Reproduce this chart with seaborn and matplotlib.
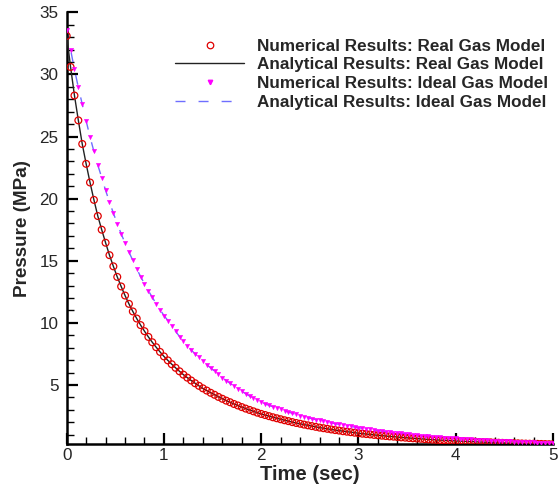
import matplotlib

matplotlib.use("Agg")
import matplotlib.pyplot as plt
import seaborn as sns
from matplotlib.lines import Line2D
from matplotlib.ticker import MultipleLocator

# Sample times (sec), one marker every 0.04 s
time_sec = [round(0.04 * k, 2) for k in range(126)]

# Pressure (MPa), real gas model
p_real = [
    33.1, 30.6, 28.3, 26.3, 24.4, 22.8, 21.3, 19.9, 18.6, 17.5,
    16.45, 15.45, 14.55, 13.7, 12.93, 12.2, 11.53, 10.92, 10.35, 9.82,
    9.33, 8.87, 8.44, 8.04, 7.66, 7.3, 6.98, 6.67, 6.38, 6.10,
    5.83, 5.59, 5.36, 5.14, 4.93, 4.73, 4.55, 4.37, 4.21, 4.04,
    3.89, 3.74, 3.61, 3.47, 3.35, 3.22, 3.10, 2.99, 2.88, 2.77,
    2.67, 2.58, 2.49, 2.40, 2.32, 2.24, 2.16, 2.09, 2.01, 1.94,
    1.88, 1.81, 1.75, 1.69, 1.63, 1.57, 1.52, 1.47, 1.42, 1.37,
    1.33, 1.28, 1.24, 1.20, 1.16, 1.12, 1.08, 1.05, 1.02, 0.98,
    0.95, 0.92, 0.89, 0.86, 0.84, 0.81, 0.78, 0.76, 0.73, 0.71,
    0.69, 0.67, 0.64, 0.62, 0.60, 0.58, 0.56, 0.55, 0.53, 0.51,
    0.50, 0.48, 0.47, 0.45, 0.44, 0.43, 0.41, 0.40, 0.39, 0.38,
    0.36, 0.35, 0.34, 0.33, 0.32, 0.31, 0.30, 0.29, 0.28, 0.27,
    0.27, 0.26, 0.25, 0.24, 0.23, 0.23,
]

# Pressure (MPa), ideal gas model
p_ideal = [
    33.6, 32.0, 30.4, 28.95, 27.6, 26.26, 24.97, 23.8, 22.7, 21.7,
    20.67, 19.73, 18.84, 17.98, 17.18, 16.42, 15.7, 15.03, 14.35, 13.73,
    13.15, 12.58, 12.07, 11.53, 11.07, 10.59, 10.19, 9.73, 9.32, 8.9,
    8.52, 8.17, 7.82, 7.5, 7.23, 6.9, 6.64, 6.37, 6.11, 5.85,
    5.60, 5.36, 5.13, 4.91, 4.70, 4.49, 4.30, 4.11, 3.94, 3.77,
    3.61, 3.48, 3.36, 3.25, 3.13, 3.03, 2.92, 2.82, 2.72, 2.63,
    2.54, 2.45, 2.37, 2.29, 2.22, 2.15, 2.08, 2.02, 1.95, 1.89,
    1.83, 1.77, 1.72, 1.66, 1.61, 1.56, 1.51, 1.46, 1.42, 1.37,
    1.33, 1.29, 1.25, 1.21, 1.17, 1.13, 1.10, 1.06, 1.03, 1.00,
    0.96, 0.93, 0.90, 0.88, 0.85, 0.82, 0.80, 0.77, 0.75, 0.72,
    0.70, 0.68, 0.66, 0.64, 0.62, 0.60, 0.58, 0.56, 0.54, 0.53,
    0.51, 0.49, 0.48, 0.46, 0.45, 0.43, 0.42, 0.41, 0.39, 0.38,
    0.37, 0.36, 0.35, 0.33, 0.32, 0.31,
]

legend_labels = [
    "Numerical Results: Real Gas Model",
    "Analytical Results: Real Gas Model",
    "Numerical Results: Ideal Gas Model",
    "Analytical Results: Ideal Gas Model",
]

sns.set_style("ticks")
plt.rcParams["font.family"] = ["Liberation Sans", "DejaVu Sans"]

fig = plt.figure(figsize=(5.58, 4.92), dpi=100)
ax = fig.add_axes([0.1195, 0.0976, 0.8715, 0.8774])

dash_blue = "#6e6eff"
dash_pattern = [7.2, 9.4]

# Analytical curves
sns.lineplot(x=time_sec, y=p_ideal, ax=ax, color=dash_blue, linewidth=1.0,
             zorder=2)
ax.lines[-1].set_dashes(dash_pattern)
sns.lineplot(x=time_sec, y=p_real, ax=ax, color="#222222", linewidth=1.0,
             zorder=3)

# Numerical results
sns.scatterplot(x=time_sec, y=p_real, ax=ax, marker="o", s=24,
                facecolors="none", edgecolor="#e00000", linewidth=0.9,
                zorder=4)
sns.scatterplot(x=time_sec, y=p_ideal, ax=ax, marker="v", s=10,
                color="#ff00ff", edgecolor="#ff00ff", linewidth=0.3,
                zorder=5)

ax.set_xlim(0, 5)
ax.set_ylim(0.25, 35)
ax.xaxis.set_major_locator(MultipleLocator(1))
ax.xaxis.set_minor_locator(MultipleLocator(0.2))
ax.yaxis.set_minor_locator(MultipleLocator(1))
ax.set_yticks([5, 10, 15, 20, 25, 30, 35])

ax.tick_params(which="major", direction="in", length=8, width=1.6,
               labelsize=12.3, color="black", pad=6)
ax.tick_params(axis="x", which="major", pad=3)
ax.tick_params(which="minor", direction="in", length=5, width=1.0,
               color="black")
sns.despine(ax=ax)
for side in ["left", "bottom"]:
    ax.spines[side].set_linewidth(1.8)
    ax.spines[side].set_color("black")

ax.set_xlabel("Time (sec)", fontsize=14.6, fontweight="bold", labelpad=1)
ax.set_ylabel("Pressure (MPa)", fontsize=13.6, fontweight="bold", labelpad=6)

handles = [
    Line2D([], [], linestyle="none", marker="o", markersize=4.7,
           markerfacecolor="none", markeredgecolor="#e00000",
           markeredgewidth=0.9),
    Line2D([], [], color="#222222", linewidth=1.0),
    Line2D([], [], linestyle="none", marker="v", markersize=3.2,
           color="#ff00ff"),
    Line2D([], [], color=dash_blue, linewidth=1.0, dashes=dash_pattern),
]
leg = ax.legend(handles, legend_labels, loc="upper right",
                bbox_to_anchor=(1.005, 0.955), frameon=False,
                prop={"weight": "bold", "size": 12.3}, handlelength=4.0,
                handletextpad=0.8, labelspacing=0.22, borderaxespad=0.0)

fig.savefig("out.png", dpi=100)
